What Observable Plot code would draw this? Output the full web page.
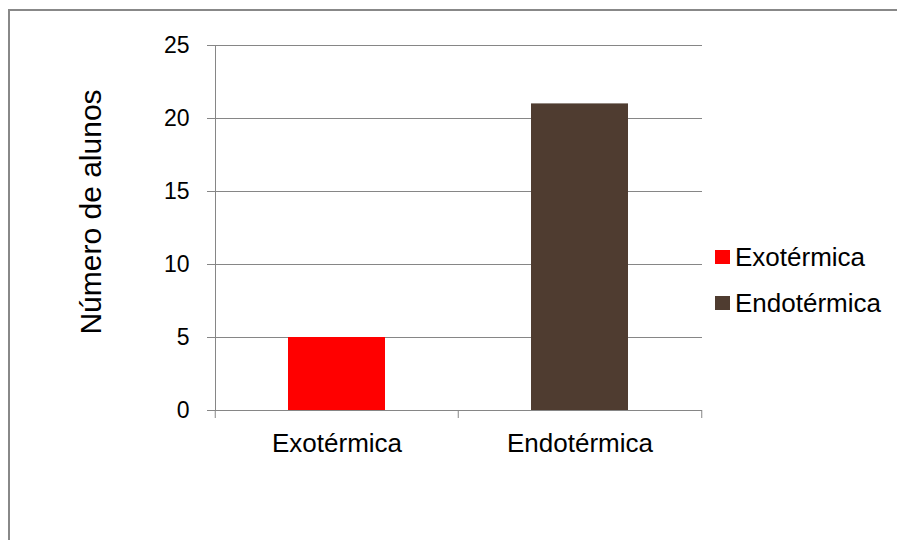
<!DOCTYPE html>
<html>
<head>
<meta charset="utf-8">
<script src="https://cdn.jsdelivr.net/npm/d3@7"></script>
<script src="https://cdn.jsdelivr.net/npm/@observablehq/plot@0.6"></script>
<style>
  html, body { margin: 0; padding: 0; background: #fff; }
  #wrap { position: relative; width: 897px; height: 540px; overflow: hidden; font-family: "Liberation Sans", Arial, sans-serif; }
  #border { position: absolute; left: 8px; top: 9px; right: -5px; bottom: -5px; border-top: 2px solid #888; border-left: 2px solid #888; }
  #chart { position: absolute; left: 0; top: 0; }
  #legend { position: absolute; left: 715px; top: 234px; font-size: 26px; color: #000; }
  .item { display: flex; align-items: center; height: 46px; }
  .sw { width: 15px; height: 14px; margin-right: 5px; }
</style>
</head>
<body>
<div id="wrap">
  <div id="border"></div>
  <div id="chart"></div>
  <div id="legend"></div>
</div>
<script>
const categories = ["Exotérmica", "Endotérmica"];
const values = [5, 21];
const colors = ["#FF0000", "#4F3C30"];
const yTicks = [0, 5, 10, 15, 20, 25];
const yTitle = "Número de alunos";

const data = categories.map((c, i) => ({category: c, value: values[i], color: colors[i]}));

const W = 897, H = 540;
const mL = 215, mR = 195, mT = 45, mB = 130;
const halfStep = (W - mL - mR) / categories.length / 2;
const grid = "#868686";

const plot = Plot.plot({
  width: W,
  height: H,
  marginLeft: mL,
  marginRight: mR,
  marginTop: mT,
  marginBottom: mB,
  style: {fontFamily: "Liberation Sans, Arial, sans-serif", background: "transparent", color: "#000"},
  x: {domain: categories, paddingInner: 0.6, paddingOuter: 0.3, label: null},
  y: {domain: [0, 25], label: null},
  marks: [
    Plot.gridY(yTicks, {stroke: grid, strokeOpacity: 1, strokeWidth: 1}),
    Plot.barY(data, {x: "category", y: "value", fill: "color"}),
    Plot.frame({anchor: "left", stroke: grid, strokeOpacity: 1}),
    Plot.axisY(yTicks, {tickSize: 8, tickPadding: 18, stroke: grid, strokeOpacity: 1, fill: "#000", fontSize: 23, label: null}),
    Plot.axisX({tickSize: 0, tickPadding: 23, fontSize: 26, fill: "#000", label: null}),
    Plot.axisX(categories, {tickSize: 8, tickFormat: () => "", dx: -halfStep, stroke: grid, strokeOpacity: 1, label: null}),
    Plot.axisX(categories.slice(-1), {tickSize: 8, tickFormat: () => "", dx: halfStep, stroke: grid, strokeOpacity: 1, label: null}),
    Plot.text([yTitle], {frameAnchor: "left", textAnchor: "middle", dx: -124, dy: -16, rotate: -90, fontSize: 30, fill: "#000"})
  ]
});
document.getElementById("chart").appendChild(plot);

const legend = document.getElementById("legend");
categories.forEach((c, i) => {
  const item = document.createElement("div");
  item.className = "item";
  const sw = document.createElement("div");
  sw.className = "sw";
  sw.style.background = colors[i];
  const t = document.createElement("span");
  t.textContent = c;
  item.appendChild(sw);
  item.appendChild(t);
  legend.appendChild(item);
});
</script>
</body>
</html>
